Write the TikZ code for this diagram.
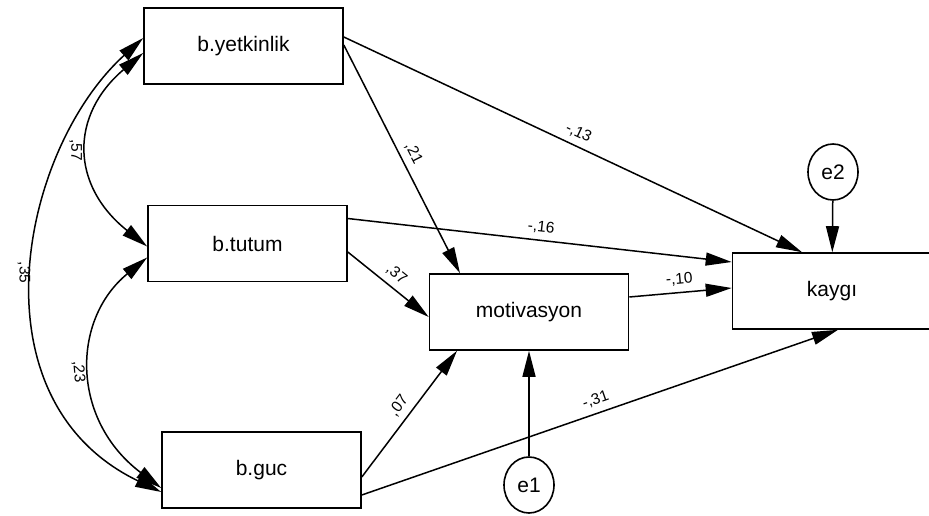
\documentclass[tikz,border=0pt]{standalone}
\usepackage{fontspec}
\setmainfont{Liberation Sans}
\usetikzlibrary{positioning,calc,arrows.meta,shapes.geometric}
\newcommand{\obsnode}[3]{\node [obs] (#1) at (#2) {#3}}
\newcommand{\errnode}[3]{\node [err] (#1) at (#2) {#3}}
\tikzset{
  obs/.style={draw, line width=1.6pt, minimum width=199pt, minimum height=76pt,
    inner sep=0pt, font=\fontsize{21}{25}\selectfont},
  err/.style={draw, ellipse, line width=1.6pt, minimum width=50pt, minimum height=56pt,
    inner sep=0pt, font=\fontsize{21}{25}\selectfont},
  reg/.style={line width=1.5pt, -{Triangle[length=26pt,width=13pt]}},
  cov/.style={line width=1.5pt, {Triangle[length=26pt,width=13pt]}-{Triangle[length=26pt,width=13pt]}},
  coef/.style={font=\fontsize{15.5}{18}\selectfont, inner sep=6pt}
}
\begin{document}
\begin{tikzpicture}[x=1pt,y=-1pt]
\useasboundingbox (0,0) rectangle (929,516);

\obsnode{YET}{243.5,46}{b.yetkinlik};
\obsnode{TUT}{247.5,243.5}{b.tutum};
\obsnode{GUC}{261.5,470}{b.guc};
\obsnode{MOT}{529,312}{motivasyon};
\obsnode{KAY}{832,291}{kaygı};
\errnode{E1}{529,485}{e1};
\errnode{E2}{833,172}{e2};

% paths
\draw[reg] ([yshift=9pt]YET.east) -- ([xshift=-30pt]KAY.north) node [coef, midway, sloped, above] (c13) {-,13};
\draw[reg] ([yshift=1pt]YET.east) -- ([xshift=-69pt]MOT.north) node [coef, midway, sloped, above] (c21) {,21};
\draw[reg] ([yshift=25pt]TUT.east) -- ([yshift=29pt]KAY.west) node [coef, midway, sloped, above] (c16) {-,16};
\draw[reg] ([yshift=-8.5pt]TUT.east) -- ([yshift=-5pt]MOT.west) node [coef, midway, sloped, above] (c37) {,37};
\draw[reg] ([yshift=15pt]MOT.east) -- ([yshift=3pt]KAY.west) node [coef, midway, sloped, above] (c10) {-,10};
\draw[reg] ([yshift=-7pt]GUC.east) -- ([xshift=-72pt]MOT.south) node [coef, midway, sloped, above] (c07) {,07};
\draw[reg] ([yshift=-25pt]GUC.east) -- ([xshift=6pt]KAY.south) node [coef, midway, sloped, above] (c31) {-,31};
\draw[reg] (E1) -- (MOT);
\draw[reg] (E2) -- (KAY);

% covariances
\draw[cov] ([yshift=-7pt]YET.west) .. controls (70,115) and (70,185) .. ([yshift=-3pt]TUT.west)
  node [coef, pos=0.5, rotate=-90, anchor=north] (c57) {,57};
\draw[cov] ([yshift=-14pt]TUT.west) .. controls (71,320) and (71,420) .. ([yshift=-18pt]GUC.west)
  node [coef, pos=0.5, rotate=-85, anchor=north] (c23) {,23};
\draw[cov] ([yshift=8pt]YET.west) .. controls (20,150) and (-30,400) .. ([yshift=-22pt]GUC.west)
  node [coef, pos=0.5, rotate=-90, anchor=north, inner sep=3pt] (c35) {,35};

\end{tikzpicture}
\end{document}
